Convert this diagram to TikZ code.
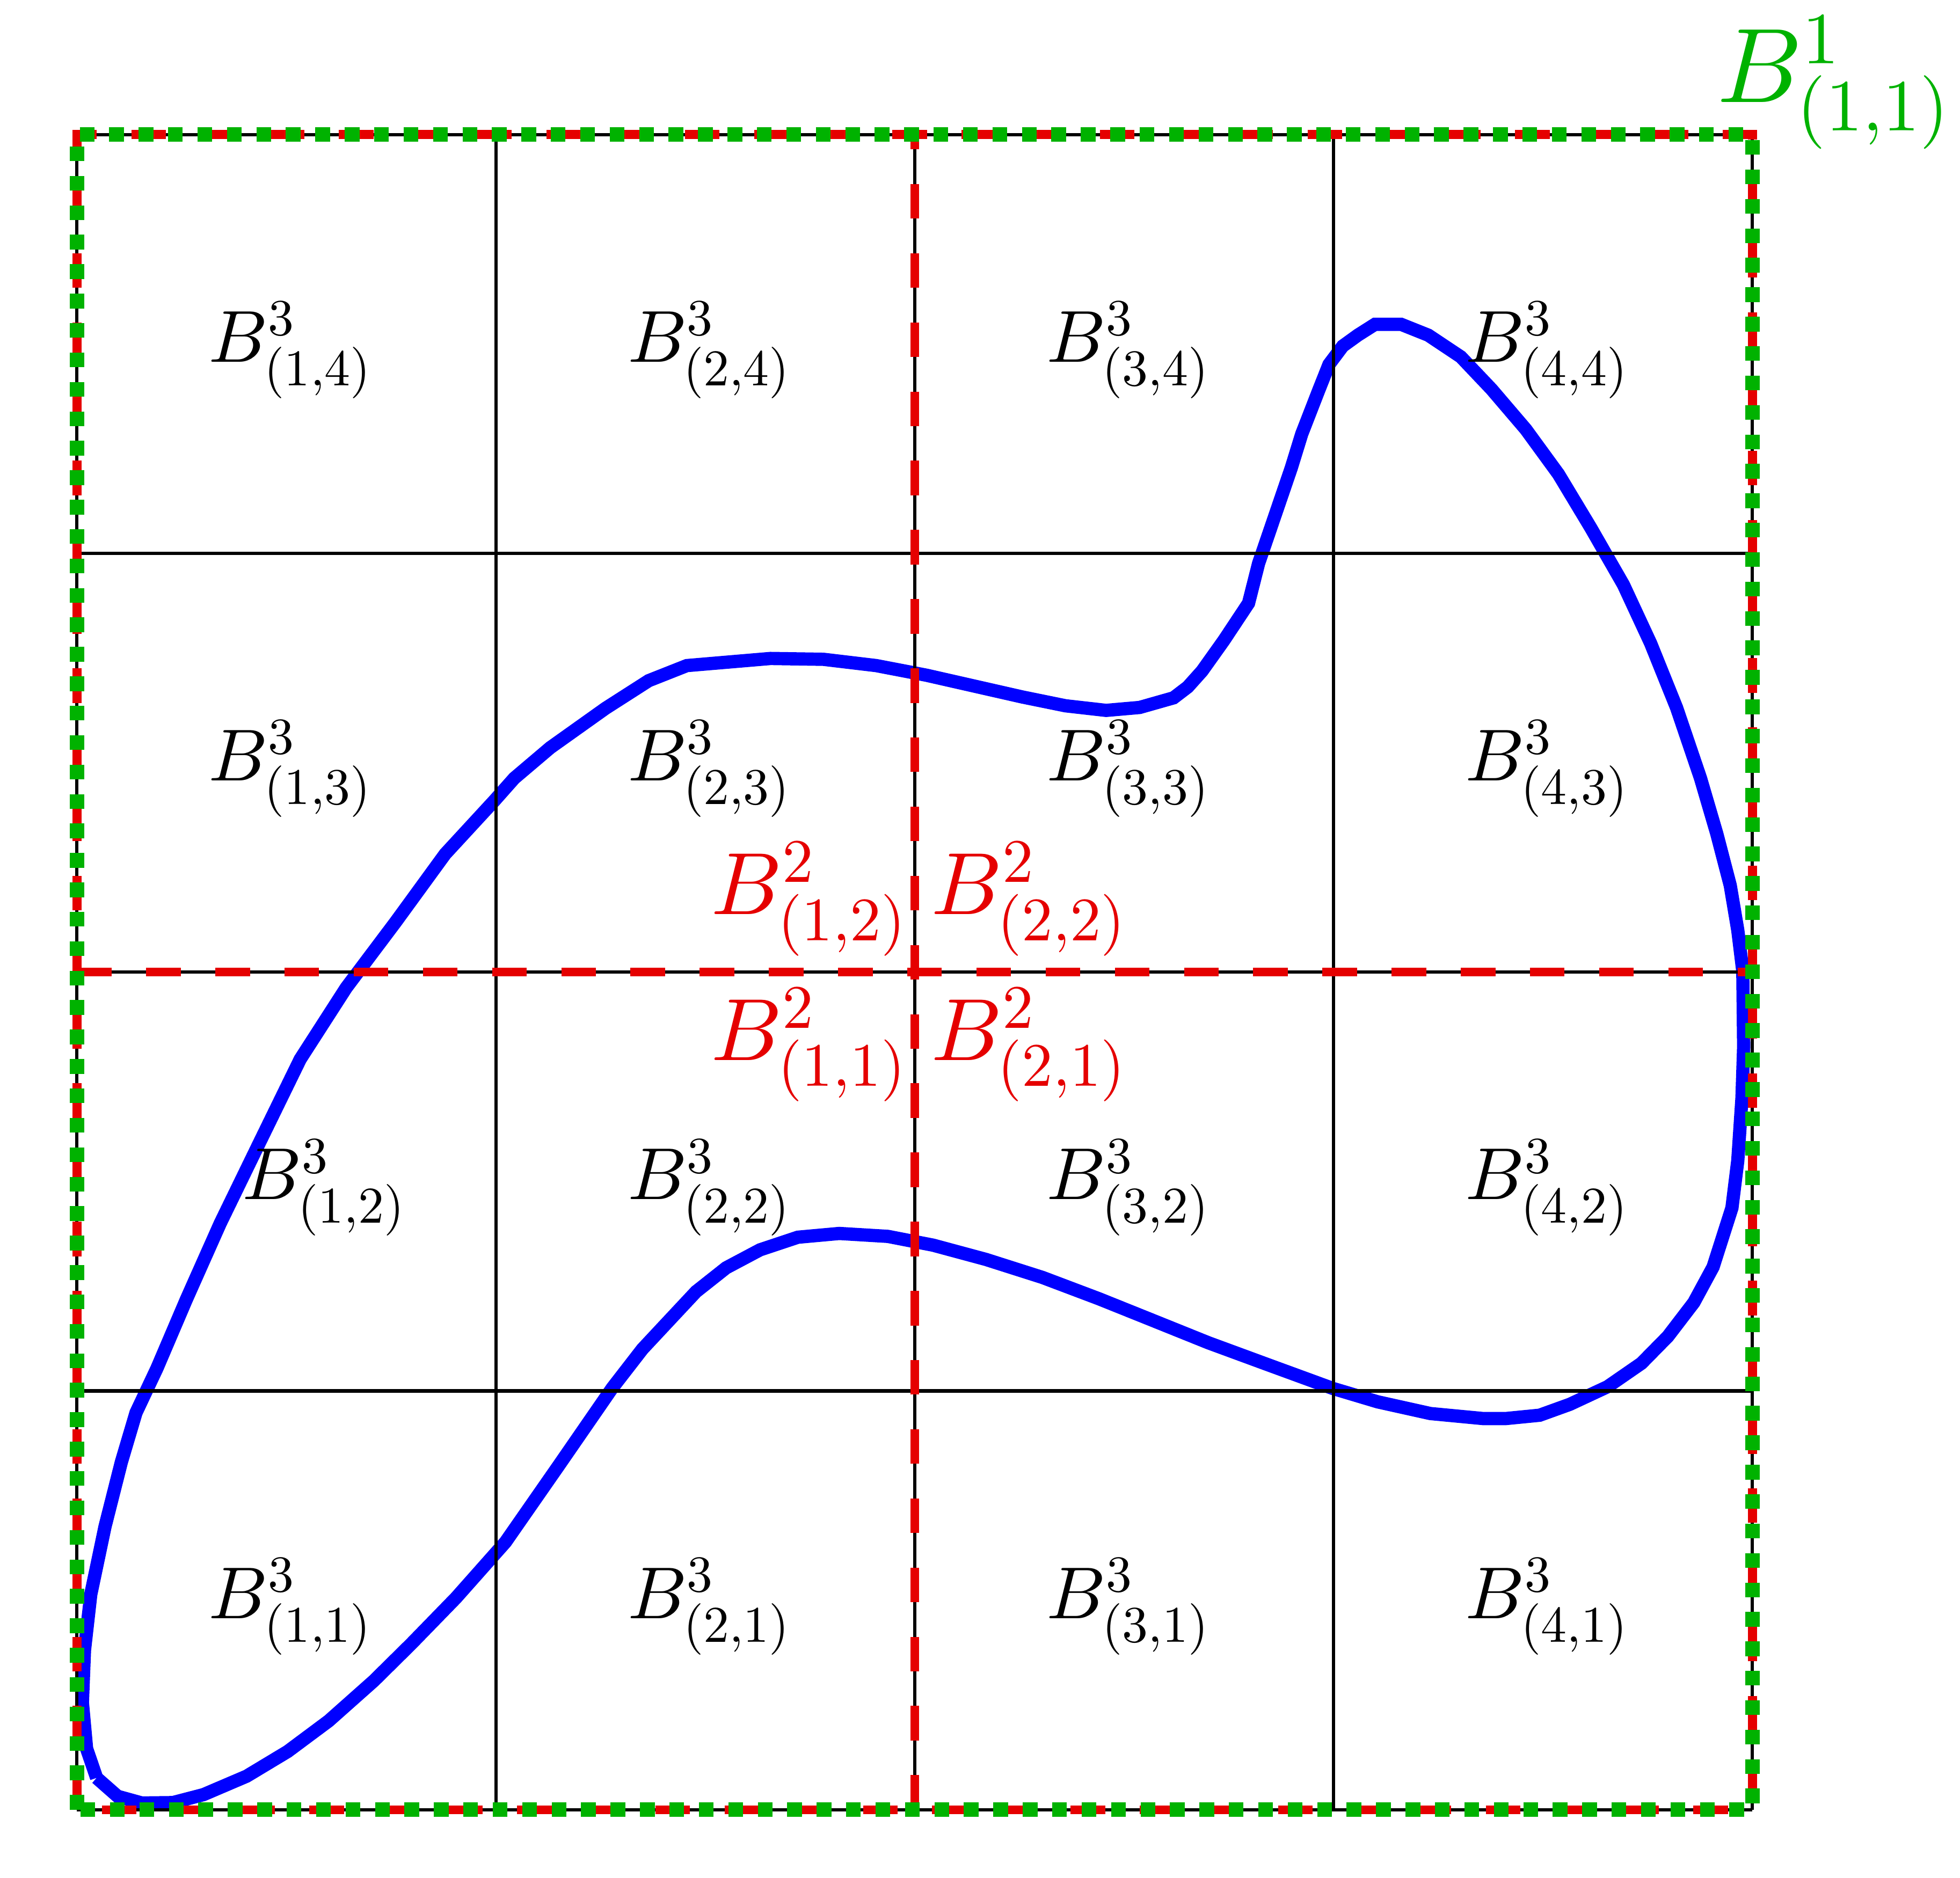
\documentclass[tikz,border=0pt]{standalone}
\usetikzlibrary{positioning}
% one design size of the math fonts for every script size
\DeclareFontFamily{OML}{cmmx}{\skewchar\font'177}
\DeclareFontShape{OML}{cmmx}{m}{it}{<-> cmmi10}{}
\DeclareFontFamily{OT1}{cmrx}{\hyphenchar\font45}
\DeclareFontShape{OT1}{cmrx}{m}{n}{<-> cmr10}{}
\DeclareSymbolFont{letters}{OML}{cmmx}{m}{it}
\DeclareSymbolFont{operators}{OT1}{cmrx}{m}{n}
\DeclareMathSizes{12}{12}{8.4}{6}

\begin{document}
\begin{tikzpicture}[x=2cm, y=2cm,
		gridline/.style = {black, line width=0.45pt},
		level two/.style = {red!90!black, line width=1.2pt, dash pattern=on 4.7pt off 4.7pt},
		level one/.style = {green!70!black, line width=2pt, dotted},
		domainline/.style = {blue, line width=1.8pt},
		cell label/.style = {inner sep=0pt},
		half label/.style = {red!90!black, inner sep=2pt, font=\large},
		box label/.style = {green!70!black, inner sep=0pt, font=\Large}]
	\useasboundingbox (-0.1837,-0.1619) rectangle (4.4956,4.3213);
	% the domain
	\draw[domainline] plot coordinates {
		(0.047,0.076) (0.097,0.032) (0.155,0.016) (0.229,0.017) (0.302,0.036)
		(0.405,0.080) (0.503,0.139) (0.601,0.212) (0.709,0.308) (0.798,0.396)
		(0.905,0.506) (1.023,0.639) (1.151,0.823) (1.278,1.007) (1.350,1.100)
		(1.406,1.160) (1.478,1.237) (1.550,1.294) (1.631,1.337) (1.721,1.367)
		(1.820,1.376) (1.936,1.369) (2.044,1.348) (2.170,1.314) (2.305,1.271)
		(2.440,1.220) (2.557,1.173) (2.701,1.115) (2.845,1.062) (2.998,1.006)
		(3.105,0.974) (3.231,0.946) (3.357,0.934) (3.411,0.934) (3.492,0.942)
		(3.564,0.968) (3.654,1.010) (3.735,1.066) (3.798,1.130) (3.860,1.211)
		(3.906,1.296) (3.951,1.437) (3.965,1.550) (3.975,1.700) (3.979,1.822)
		(3.977,2.002) (3.965,2.100) (3.947,2.207) (3.915,2.330) (3.876,2.463)
		(3.819,2.631) (3.757,2.785) (3.692,2.925) (3.614,3.061) (3.537,3.189)
		(3.459,3.296) (3.377,3.392) (3.304,3.469) (3.226,3.521) (3.161,3.547)
		(3.099,3.547) (3.058,3.521) (3.022,3.495) (2.989,3.451) (2.964,3.388)
		(2.924,3.285) (2.899,3.204) (2.860,3.090) (2.821,2.976) (2.797,2.881)
		(2.738,2.792) (2.686,2.719) (2.652,2.681) (2.618,2.655) (2.537,2.632)
		(2.457,2.625) (2.360,2.636) (2.257,2.657) (2.028,2.709) (1.908,2.732)
		(1.782,2.747) (1.656,2.749) (1.456,2.732) (1.365,2.696) (1.262,2.630)
		(1.130,2.536) (1.044,2.463) (0.997,2.410) (0.879,2.282) (0.761,2.120)
		(0.643,1.963) (0.533,1.792) (0.430,1.581) (0.342,1.400) (0.261,1.218)
		(0.191,1.054) (0.141,0.948) (0.106,0.830) (0.067,0.676) (0.033,0.514)
		(0.018,0.381) (0.013,0.256) (0.023,0.146) (0.047,0.076)};
	% level 3
	\draw[gridline, step=2cm] (0,0) grid (4,4);
	% level 2
	\draw[level two] (0,2) -- (4,2);
	\draw[level two] (2,0) -- (2,4);
	\draw[level two] (0,0) rectangle (4,4);
	% level 1
	\draw[level one] (0,0) rectangle (4,4);
	\foreach \i in {1,...,4}
		\foreach \j in {1,...,4} {
			\pgfmathsetmacro{\dx}{and(\i==1,\j==2)*0.08}
			\node[cell label] (b3-\i-\j) at (\i-0.488+\dx,\j-0.515) {$B^3_{(\i,\j)}$};
		}
	\coordinate (mid) at (2,2);
	\node[half label, inner xsep=0.6pt, anchor=south east] (b2-1-2) at (mid) {$B^2_{(1,2)}$};
	\node[half label, anchor=south west] (b2-2-2) at (mid) {$B^2_{(2,2)}$};
	\node[half label, inner xsep=0.6pt, anchor=north east] (b2-1-1) at (mid) {$B^2_{(1,1)}$};
	\node[half label, anchor=north west] (b2-2-1) at (mid) {$B^2_{(2,1)}$};
	\node[box label] (b1-1-1) at (4.196,4.124) {$B^1_{(1,1)}$};
\end{tikzpicture}
\end{document}
